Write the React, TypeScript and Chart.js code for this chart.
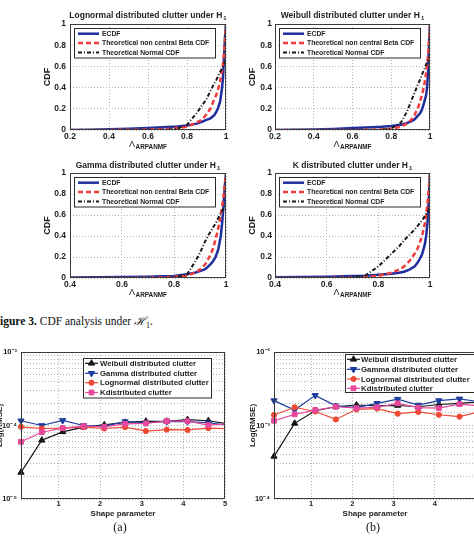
import React, { useEffect, useRef } from 'react';
import { Chart, registerables } from 'chart.js';

Chart.register(...registerables);

const FONT = '"Liberation Sans", Arial, Helvetica, sans-serif';
const SERIF = '"Liberation Serif", "DejaVu Serif", serif';
const TEXT = '#1e1e1e';
Chart.defaults.font.family = FONT;
Chart.defaults.color = TEXT;

// ---------------- Figure 3: CDF analysis data ----------------
const cdfGridWide = [0.2, 0.3, 0.4, 0.5, 0.6, 0.7, 0.75, 0.8, 0.85, 0.88, 0.9, 0.92, 0.94, 0.95, 0.96, 0.97, 0.98, 0.985, 0.99, 0.995, 1.0];
const cdfGridNarrow = [0.4, 0.5, 0.6, 0.7, 0.75, 0.8, 0.85, 0.88, 0.9, 0.92, 0.94, 0.95, 0.96, 0.97, 0.98, 0.985, 0.99, 0.995, 1.0];

const lognormalEcdf = [0, 0.003, 0.006, 0.012, 0.02, 0.028, 0.033, 0.042, 0.06, 0.08, 0.095, 0.11, 0.14, 0.17, 0.21, 0.27, 0.4, 0.5, 0.7, 0.88, 1.0];
const lognormalBeta = [0, 0, 0.001, 0.002, 0.004, 0.01, 0.018, 0.03, 0.07, 0.1, 0.15, 0.2, 0.29, 0.33, 0.39, 0.46, 0.57, 0.63, 0.72, 0.86, 1.0];
const lognormalNormal = [0, 0, 0, 0, 0, 0.003, 0.012, 0.05, 0.16, 0.24, 0.29, 0.37, 0.44, 0.47, 0.51, 0.55, 0.58, 0.6, 0.62, 0.64, 0.67];

const weibullEcdf = [0, 0.002, 0.005, 0.01, 0.018, 0.025, 0.03, 0.038, 0.05, 0.065, 0.08, 0.1, 0.14, 0.16, 0.2, 0.26, 0.33, 0.4, 0.55, 0.82, 1.0];
const weibullBeta = [0, 0, 0, 0, 0, 0.003, 0.006, 0.012, 0.03, 0.06, 0.09, 0.14, 0.22, 0.28, 0.34, 0.42, 0.54, 0.61, 0.7, 0.84, 1.0];
const weibullNormal = [0, 0, 0, 0, 0, 0, 0.002, 0.015, 0.07, 0.17, 0.26, 0.35, 0.44, 0.48, 0.53, 0.57, 0.62, 0.64, 0.66, 0.68, 0.7];

const gammaEcdf = [0.005, 0.008, 0.01, 0.013, 0.016, 0.02, 0.035, 0.05, 0.065, 0.085, 0.13, 0.16, 0.2, 0.27, 0.4, 0.52, 0.67, 0.86, 1.0];
const gammaBeta = [0, 0, 0, 0.002, 0.005, 0.01, 0.022, 0.05, 0.08, 0.13, 0.22, 0.28, 0.37, 0.47, 0.6, 0.68, 0.77, 0.88, 1.0];
const gammaNormal = [0, 0, 0, 0, 0, 0.003, 0.035, 0.15, 0.24, 0.35, 0.44, 0.48, 0.52, 0.57, 0.62, 0.64, 0.66, 0.68, 0.7];

const kEcdf = [0.008, 0.01, 0.013, 0.018, 0.022, 0.03, 0.04, 0.05, 0.06, 0.08, 0.11, 0.14, 0.18, 0.23, 0.32, 0.4, 0.52, 0.74, 1.0];
const kBeta = [0, 0, 0, 0.004, 0.01, 0.02, 0.05, 0.08, 0.11, 0.16, 0.23, 0.27, 0.33, 0.41, 0.52, 0.6, 0.71, 0.84, 1.0];
const kNormal = [0, 0, 0, 0.003, 0.025, 0.11, 0.23, 0.3, 0.36, 0.41, 0.46, 0.49, 0.52, 0.55, 0.59, 0.61, 0.63, 0.65, 0.67];

const cdfSeriesLabels = ['ECDF', 'Theoretical non central Beta CDF', 'Theoretical Normal CDF'];

// ---------------- RMSE data ----------------
const shapeParams = [0.1, 0.6, 1.1, 1.6, 2.1, 2.6, 3.1, 3.6, 4.1, 4.6, 5.1];
const rmseSeriesLabels = ['Weibull distributed clutter', 'Gamma distributed clutter', 'Lognormal distributed clutter', 'Kdistributed clutter'];

const weibullRmseA = [2.3e-5, 6.3e-5, 8.2e-5, 9.5e-5, 1.02e-4, 1.1e-4, 1.14e-4, 1.14e-4, 1.2e-4, 1.16e-4, 1.05e-4];
const gammaRmseA = [1.16e-4, 1.0e-4, 1.17e-4, 1.0e-4, 0.98e-4, 1.13e-4, 1.09e-4, 1.13e-4, 1.13e-4, 1.09e-4, 1.0e-4];
const lognormalRmseA = [9.6e-5, 9.1e-5, 9.2e-5, 9.5e-5, 9.1e-5, 9.5e-5, 8.4e-5, 8.8e-5, 8.7e-5, 9.2e-5, 9.0e-5];
const kRmseA = [6.0e-5, 8.1e-5, 9.2e-5, 9.8e-5, 9.6e-5, 1.05e-4, 1.07e-4, 1.15e-4, 1.15e-4, 1.01e-4, 1.05e-4];

const weibullRmseB = [3.8e-4, 1.07e-3, 1.59e-3, 1.8e-3, 1.9e-3, 1.85e-3, 1.87e-3, 1.8e-3, 1.93e-3, 2.0e-3, 2.1e-3];
const gammaRmseB = [2.18e-3, 1.62e-3, 2.57e-3, 1.85e-3, 1.75e-3, 2.0e-3, 2.28e-3, 1.9e-3, 2.18e-3, 2.3e-3, 2.1e-3];
const lognormalRmseB = [1.39e-3, 1.77e-3, 1.55e-3, 1.21e-3, 1.66e-3, 1.7e-3, 1.45e-3, 1.53e-3, 1.4e-3, 1.32e-3, 1.55e-3];
const kRmseB = [1.16e-3, 1.42e-3, 1.62e-3, 1.8e-3, 1.72e-3, 1.77e-3, 2.0e-3, 1.75e-3, 1.72e-3, 1.95e-3, 1.85e-3];

const decadesA = [1e-5, 1e-4, 1e-3];
const decadeLabelsA = ['10⁻⁵', '10⁻⁴', '10⁻³'];
const decadesB = [1e-4, 1e-3, 1e-2];
const decadeLabelsB = ['10⁻⁴', '10⁻³', '10⁻²'];

// ---------------- styles ----------------
const BLUE = '#1f2f9e';
const RED = '#f03c3c';
const DARK = '#1a1a1a';
const GRID = '#b4b4b4';
const FRAME = '#3c3c3c';
const RMSE_COLORS = ['#151515', '#1d3c9e', '#ee4a33', '#e6489b'];
const RMSE_MARKERS = [
  { style: 'triangle', rot: 0, r: 3.6 },
  { style: 'triangle', rot: 180, r: 3.6 },
  { style: 'circle', rot: 0, r: 2.6 },
  { style: 'rect', rot: 0, r: 3.4 },
];

type Rect = { x: number; y: number; w: number; h: number };
type Plot = { l: number; t: number; r: number; b: number };

function frameLayout(c: Rect, p: Plot) {
  return { yW: p.l - c.x, padTop: p.t - c.y, padRight: c.x + c.w - p.r, xH: c.y + c.h - p.b };
}

function drawMarker(ctx: CanvasRenderingContext2D, style: string, rotDeg: number, x: number, y: number, r: number, color: string) {
  ctx.save();
  ctx.setLineDash([]);
  ctx.fillStyle = color;
  ctx.strokeStyle = color;
  ctx.lineWidth = 1;
  ctx.beginPath();
  if (style === 'triangle') {
    let rad = (rotDeg * Math.PI) / 180;
    for (let k = 0; k < 3; k++) {
      const px = x + Math.sin(rad) * r;
      const py = y - Math.cos(rad) * r;
      if (k === 0) ctx.moveTo(px, py);
      else ctx.lineTo(px, py);
      rad += (2 * Math.PI) / 3;
    }
    ctx.closePath();
  } else if (style === 'rect') {
    const s = r * Math.SQRT1_2;
    ctx.rect(x - s, y - s, 2 * s, 2 * s);
  } else {
    ctx.arc(x, y, r, 0, Math.PI * 2);
  }
  ctx.fill();
  ctx.stroke();
  ctx.restore();
}

type LegendCfg = { dx: number; dy: number; w: number; h: number; rows: number[]; x0: number; x1: number; tx: number; font: string };
type DecorCfg = {
  title?: { text: string; sub: string; dy: number; size: number; subSize: number };
  xlab?: { main: string; sub: string; dy: number };
  legend: LegendCfg;
};

function makeDecor(cfg: DecorCfg) {
  return {
    id: 'decor',
    afterDatasetsDraw(chart: any) {
      const ctx: CanvasRenderingContext2D = chart.ctx;
      const a = chart.chartArea;
      ctx.save();
      ctx.setLineDash([]);
      // axes box
      ctx.strokeStyle = FRAME;
      ctx.lineWidth = 1;
      const L = Math.round(a.left) + 0.5;
      const T = Math.round(a.top) + 0.5;
      const R = Math.round(a.right) - 0.5;
      const B = Math.round(a.bottom) - 0.5;
      ctx.strokeRect(L, T, R - L, B - T);

      // legend
      const lg = cfg.legend;
      const bx = Math.round(a.left + lg.dx) + 0.5;
      const by = Math.round(a.top + lg.dy) + 0.5;
      ctx.fillStyle = '#ffffff';
      ctx.fillRect(bx, by, lg.w, lg.h);
      ctx.strokeStyle = '#2a2a2a';
      ctx.strokeRect(bx, by, lg.w, lg.h);
      chart.data.datasets.forEach((ds: any, i: number) => {
        const y = a.top + lg.rows[i];
        ctx.save();
        ctx.strokeStyle = ds.borderColor;
        ctx.lineWidth = ds.borderWidth;
        ctx.setLineDash(ds.borderDash || []);
        ctx.beginPath();
        ctx.moveTo(a.left + lg.x0, y);
        ctx.lineTo(a.left + lg.x1, y);
        ctx.stroke();
        ctx.restore();
        if (ds.pointRadius > 0) {
          drawMarker(ctx, ds.pointStyle, ds.pointRotation || 0, a.left + (lg.x0 + lg.x1) / 2, y, ds.pointRadius, ds.borderColor);
        }
        ctx.fillStyle = TEXT;
        ctx.font = lg.font;
        ctx.textAlign = 'left';
        ctx.textBaseline = 'middle';
        ctx.fillText(ds.label, a.left + lg.tx, y + 0.5);
      });

      // title with subscript
      if (cfg.title) {
        const t = cfg.title;
        const mainFont = `bold ${t.size}px ${FONT}`;
        const subFont = `bold ${t.subSize}px ${FONT}`;
        ctx.font = mainFont;
        const w1 = ctx.measureText(t.text).width;
        ctx.font = subFont;
        const w2 = ctx.measureText(t.sub).width;
        const x0 = (a.left + a.right) / 2 - (w1 + 1 + w2) / 2;
        const y = a.top - t.dy;
        ctx.fillStyle = TEXT;
        ctx.textAlign = 'left';
        ctx.textBaseline = 'middle';
        ctx.font = mainFont;
        ctx.fillText(t.text, x0, y);
        ctx.font = subFont;
        ctx.fillText(t.sub, x0 + w1 + 1, y + 2.5);
      }

      // x label with subscript
      if (cfg.xlab) {
        const xl = cfg.xlab;
        const mainFont = `9px ${FONT}`;
        const subFont = `bold 6.4px ${FONT}`;
        ctx.font = mainFont;
        const w1 = ctx.measureText(xl.main).width;
        ctx.font = subFont;
        const w2 = ctx.measureText(xl.sub).width;
        const x0 = (a.left + a.right) / 2 - (w1 + 0.5 + w2) / 2;
        const y = a.bottom + xl.dy;
        ctx.fillStyle = TEXT;
        ctx.textAlign = 'left';
        ctx.textBaseline = 'middle';
        ctx.font = mainFont;
        ctx.fillText(xl.main, x0, y);
        ctx.font = subFont;
        ctx.fillText(xl.sub, x0 + w1 + 0.5, y + 3);
      }
      ctx.restore();
    },
  };
}

function cdfConfig(o: {
  canvas: Rect; plot: Plot; xs: number[]; ecdf: number[]; beta: number[]; normal: number[];
  xMin: number; title: string; yTickPad: number; titleDy: number;
}) {
  const L = frameLayout(o.canvas, o.plot);
  const pts = (ys: number[]) => o.xs.map((x, i) => ({ x, y: ys[i] }));
  const tickFont = { size: 8.5, weight: 'bold' as const };
  const fmt = (v: any) => String(Math.round(Number(v) * 10) / 10);
  return {
    type: 'line',
    data: {
      datasets: [
        { label: cdfSeriesLabels[0], data: pts(o.ecdf), borderColor: BLUE, borderWidth: 2.5, pointRadius: 0, tension: 0, order: 3 },
        { label: cdfSeriesLabels[1], data: pts(o.beta), borderColor: RED, borderWidth: 2.5, borderDash: [5, 3], pointRadius: 0, tension: 0, order: 2 },
        { label: cdfSeriesLabels[2], data: pts(o.normal), borderColor: DARK, borderWidth: 2, borderDash: [4, 2, 1, 2], pointRadius: 0, tension: 0, order: 1 },
      ],
    },
    options: {
      responsive: false,
      animation: false,
      events: [],
      layout: { padding: { top: L.padTop, right: L.padRight, left: 0, bottom: 0 } },
      plugins: { legend: { display: false }, tooltip: { enabled: false }, title: { display: false } },
      scales: {
        x: {
          type: 'linear', min: o.xMin, max: 1,
          afterFit: (s: any) => { s.height = L.xH; },
          ticks: { stepSize: 0.2, font: tickFont, color: TEXT, padding: 1.9, callback: fmt, maxRotation: 0, autoSkip: false },
          grid: { color: GRID, drawTicks: false },
          border: { display: false, dash: [1, 2] },
        },
        y: {
          type: 'linear', min: 0, max: 1,
          afterFit: (s: any) => { s.width = L.yW; },
          ticks: { stepSize: 0.2, font: tickFont, color: TEXT, padding: o.yTickPad, callback: fmt, autoSkip: false },
          grid: { color: GRID, drawTicks: false },
          border: { display: false, dash: [1, 2] },
          title: { display: true, text: 'CDF', color: TEXT, font: { size: 9, weight: 'bold' }, padding: { top: L.yW - 22 - 5.4, bottom: 0 } },
        },
      },
    },
    plugins: [
      makeDecor({
        title: { text: o.title, sub: '1', dy: o.titleDy, size: 8.5, subSize: 6 },
        xlab: { main: 'Λ', sub: 'ARPANMF', dy: 14.5 },
        legend: { dx: 3.5, dy: 4, w: 141, h: 29.5, rows: [9.7, 19, 28.4], x0: 8, x1: 29, tx: 32, font: `bold 6.8px ${FONT}` },
      }),
    ],
  };
}

function rmseConfig(o: {
  canvas: Rect; plot: Plot; series: number[][]; yMin: number; yMax: number;
  decades: number[]; decadeLabels: string[]; yTitleX: number; legend: LegendCfg;
}) {
  const L = frameLayout(o.canvas, o.plot);
  const tickFont = { size: 7.5, weight: 'bold' as const };
  const yTitleCenter = o.yTitleX - o.canvas.x;
  const xTitleCenterFromBottom = o.canvas.y + o.canvas.h - 513.3;
  return {
    type: 'line',
    data: {
      datasets: o.series.map((ys, i) => ({
        label: rmseSeriesLabels[i],
        data: shapeParams.map((x, k) => ({ x, y: ys[k] })),
        borderColor: RMSE_COLORS[i],
        backgroundColor: RMSE_COLORS[i],
        pointBackgroundColor: RMSE_COLORS[i],
        pointBorderColor: RMSE_COLORS[i],
        borderWidth: 1.2,
        pointStyle: RMSE_MARKERS[i].style,
        pointRotation: RMSE_MARKERS[i].rot,
        pointRadius: RMSE_MARKERS[i].r,
        pointBorderWidth: 1,
        tension: 0,
        order: 4 - i,
        clip: { left: 8, top: 8, right: 0, bottom: 8 },
      })),
    },
    options: {
      responsive: false,
      animation: false,
      events: [],
      layout: { padding: { top: L.padTop, right: L.padRight, left: 0, bottom: 0 } },
      plugins: { legend: { display: false }, tooltip: { enabled: false }, title: { display: false } },
      scales: {
        x: {
          type: 'linear', min: 0.1, max: 5,
          afterFit: (s: any) => { s.height = L.xH; },
          afterBuildTicks: (s: any) => { s.ticks = s.ticks.filter((t: any) => Math.abs(t.value - Math.round(t.value)) < 1e-9 && t.value >= 1); },
          ticks: { stepSize: 1, font: tickFont, color: TEXT, padding: 0.5, maxRotation: 0, autoSkip: false, callback: (v: any) => String(v) },
          grid: { color: GRID, drawTicks: false },
          border: { display: false, dash: [1, 2] },
          title: { display: true, text: 'Shape parameter', color: TEXT, font: { size: 8, weight: 'bold' }, padding: { top: 0, bottom: xTitleCenterFromBottom - 4.8 } },
        },
        y: {
          type: 'logarithmic', min: o.yMin, max: o.yMax,
          afterFit: (s: any) => { s.width = L.yW; },
          ticks: {
            font: tickFont, color: TEXT, padding: 4, autoSkip: false,
            callback: (v: any) => {
              const idx = o.decades.findIndex((d) => Math.abs(Math.log10(Number(v)) - Math.log10(d)) < 1e-6);
              return idx >= 0 ? o.decadeLabels[idx] : '';
            },
          },
          grid: { color: GRID, drawTicks: false },
          border: { display: false, dash: [1, 2] },
          title: { display: true, text: 'Log(RMSE)', color: TEXT, font: { size: 8, weight: 'bold' }, padding: { top: yTitleCenter - 4.8, bottom: 0 } },
        },
      },
    },
    plugins: [makeDecor({ legend: o.legend })],
  };
}

function ChartCanvas({ box, make }: { box: Rect; make: () => any }) {
  const ref = useRef<HTMLCanvasElement | null>(null);
  useEffect(() => {
    if (!ref.current) return;
    const chart = new Chart(ref.current, make());
    return () => chart.destroy();
  }, []);
  return (
    <canvas
      ref={ref}
      width={box.w}
      height={box.h}
      style={{ position: 'absolute', left: box.x, top: box.y, width: box.w, height: box.h }}
    />
  );
}

const TL_C: Rect = { x: 0, y: 0, w: 237, h: 152 };
const TR_C: Rect = { x: 237, y: 0, w: 237, h: 152 };
const BL_C: Rect = { x: 0, y: 152, w: 237, h: 152 };
const BR_C: Rect = { x: 237, y: 152, w: 237, h: 152 };
const RA_C: Rect = { x: -30, y: 336, w: 267, h: 184 };
const RB_C: Rect = { x: 222, y: 336, w: 266, h: 184 };

export default function App() {
  return (
    <div style={{ position: 'fixed', left: 0, top: 0, width: 474, height: 536, overflow: 'hidden', background: '#ffffff' }}>
      <ChartCanvas box={TL_C} make={() => cdfConfig({
        canvas: TL_C, plot: { l: 70, t: 24, r: 226, b: 130 }, xs: cdfGridWide,
        ecdf: lognormalEcdf, beta: lognormalBeta, normal: lognormalNormal, xMin: 0.2,
        title: 'Lognormal distributed clutter under H', yTickPad: 4, titleDy: 8,
      })} />
      <ChartCanvas box={TR_C} make={() => cdfConfig({
        canvas: TR_C, plot: { l: 275, t: 24, r: 430, b: 130 }, xs: cdfGridWide,
        ecdf: weibullEcdf, beta: weibullBeta, normal: weibullNormal, xMin: 0.2,
        title: 'Weibull distributed clutter under H', yTickPad: 3, titleDy: 8,
      })} />
      <ChartCanvas box={BL_C} make={() => cdfConfig({
        canvas: BL_C, plot: { l: 70, t: 173, r: 226, b: 278 }, xs: cdfGridNarrow,
        ecdf: gammaEcdf, beta: gammaBeta, normal: gammaNormal, xMin: 0.4,
        title: 'Gamma distributed clutter under H', yTickPad: 4, titleDy: 7.5,
      })} />
      <ChartCanvas box={BR_C} make={() => cdfConfig({
        canvas: BR_C, plot: { l: 275, t: 173, r: 430, b: 278 }, xs: cdfGridNarrow,
        ecdf: kEcdf, beta: kBeta, normal: kNormal, xMin: 0.4,
        title: 'K distributed clutter under H', yTickPad: 3, titleDy: 7.5,
      })} />

      <div style={{ position: 'absolute', left: -7, top: 313, fontFamily: SERIF, fontSize: 11.5, lineHeight: '16px', whiteSpace: 'nowrap', color: '#111' }}>
        <b>Figure 3.</b> CDF analysis under <span style={{ fontStyle: 'italic' }}>ℋ</span>
        <span style={{ fontSize: 8, position: 'relative', top: 3 }}>1</span>.
      </div>

      <ChartCanvas box={RA_C} make={() => rmseConfig({
        canvas: RA_C, plot: { l: 21, t: 352, r: 225, b: 499 },
        series: [weibullRmseA, gammaRmseA, lognormalRmseA, kRmseA], yMin: 1e-5, yMax: 1e-3,
        decades: decadesA, decadeLabels: decadeLabelsA, yTitleX: -0.5,
        legend: { dx: 62, dy: 6, w: 128, h: 39.5, rows: [11.3, 21.3, 30.7, 40.5], x0: 64, x1: 77, tx: 79, font: `bold 7.8px ${FONT}` },
      })} />
      <ChartCanvas box={RB_C} make={() => rmseConfig({
        canvas: RB_C, plot: { l: 274, t: 352, r: 476, b: 499 },
        series: [weibullRmseB, gammaRmseB, lognormalRmseB, kRmseB], yMin: 1e-4, yMax: 1e-2,
        decades: decadesB, decadeLabels: decadeLabelsB, yTitleX: 252.5,
        legend: { dx: 71, dy: 2.3, w: 129, h: 38, rows: [7.3, 17.3, 27, 36.3], x0: 73, x1: 86, tx: 87, font: `bold 7.8px ${FONT}` },
      })} />

      <div style={{ position: 'absolute', left: 100, top: 519, width: 40, textAlign: 'center', fontFamily: SERIF, fontSize: 12, lineHeight: '16px', color: '#111' }}>(a)</div>
      <div style={{ position: 'absolute', left: 353, top: 519, width: 40, textAlign: 'center', fontFamily: SERIF, fontSize: 12, lineHeight: '16px', color: '#111' }}>(b)</div>
    </div>
  );
}
